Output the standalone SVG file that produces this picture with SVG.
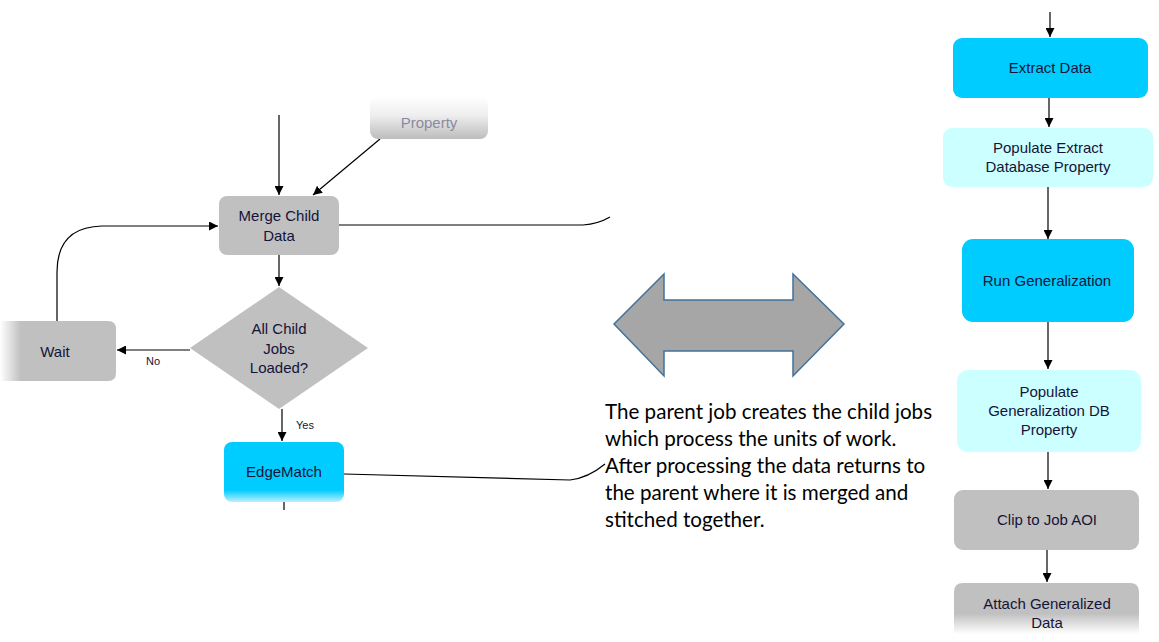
<svg xmlns="http://www.w3.org/2000/svg" width="1159" height="642" viewBox="0 0 1159 642">
<style>
.lbl{font-family:"Liberation Sans",Arial,sans-serif;font-size:15px;fill:#14143a;text-anchor:middle}
.sm{font-family:"Liberation Sans",Arial,sans-serif;font-size:11px;fill:#14143a}
.note{font-family:Lato,"Open Sans",sans-serif;font-size:20.6px;fill:#000}
.gray{fill:#c0c0c0}
.cyan{fill:#00ccff}
.pale{fill:#ccffff}
.c{fill:none;stroke:#000;stroke-width:1.2}
</style>
<defs>
<marker id="ah" viewBox="0 0 10 10" refX="10" refY="5" markerWidth="9" markerHeight="9" markerUnits="userSpaceOnUse" orient="auto">
<path d="M0,0 L10,5 L0,10 z" fill="#000"/>
</marker>
<linearGradient id="fadeTop" x1="0" y1="0" x2="0" y2="1">
<stop offset="0" stop-color="#fff"/>
<stop offset="0.45" stop-color="#eee"/>
<stop offset="1" stop-color="#bdbdbd"/>
</linearGradient>
<linearGradient id="fadeLeft" x1="0" y1="0" x2="1" y2="0">
<stop offset="0" stop-color="#fff"/>
<stop offset="0.18" stop-color="#c0c0c0"/>
<stop offset="1" stop-color="#c0c0c0"/>
</linearGradient>
<linearGradient id="fadeBotGray" x1="0" y1="0" x2="0" y2="1">
<stop offset="0" stop-color="#c0c0c0"/>
<stop offset="0.6" stop-color="#c0c0c0"/>
<stop offset="1" stop-color="#fff"/>
</linearGradient>
<linearGradient id="fadeBotCyan" x1="0" y1="0" x2="0" y2="1">
<stop offset="0" stop-color="#00ccff"/>
<stop offset="0.8" stop-color="#00ccff"/>
<stop offset="1" stop-color="#bff0ff"/>
</linearGradient>
<linearGradient id="lineFade" x1="0" y1="0" x2="1" y2="0">
<stop offset="0" stop-color="#000" stop-opacity="0"/>
<stop offset="0.2" stop-color="#000"/>
<stop offset="1" stop-color="#000"/>
</linearGradient>
</defs>

<g id="connectors">
<path class="c" d="M279,115 V195" marker-end="url(#ah)"/>
<path class="c" d="M380,139 L313,195" marker-end="url(#ah)"/>
<path class="c" d="M279,255 V286" marker-end="url(#ah)"/>
<path class="c" d="M339,225 H583 Q598,224 610,217"/>
<path class="c" d="M190,350 H117" marker-end="url(#ah)"/>
<path class="c" d="M57,321 V272 Q57,227 102,226 H218" marker-end="url(#ah)"/>
<path class="c" d="M282,409 V441" marker-end="url(#ah)"/>
<path class="c" d="M344,474 L570,480 Q588,478 605,464"/>
<path class="c" d="M284,502 V510"/>
<path class="c" d="M1050,12 V37" marker-end="url(#ah)"/>
<path stroke="url(#lineFade)" stroke-width="1.2" fill="none" d="M873,67.5 H953"/>
<path class="c" d="M1049,98 V127" marker-end="url(#ah)"/>
<path class="c" d="M1048,187 V239" marker-end="url(#ah)"/>
<path stroke="url(#lineFade)" stroke-width="1.2" fill="none" d="M870,281.5 H962"/>
<path class="c" d="M1048,322 V369" marker-end="url(#ah)"/>
<path class="c" d="M1048,452 V489" marker-end="url(#ah)"/>
<path stroke="url(#lineFade)" stroke-width="1.2" fill="none" d="M870,520.5 H954"/>
<path class="c" d="M1047,550 V582" marker-end="url(#ah)"/>
<path stroke="url(#lineFade)" stroke-width="1.2" fill="none" d="M873,615.5 H954"/>
<text class="sm" x="146" y="365">No</text>
<text class="sm" x="296" y="429">Yes</text>
</g>

<g id="property">
<rect x="370" y="96" width="118" height="43" rx="8" fill="url(#fadeTop)"/>
<text class="lbl" x="429" y="128" style="fill:#8a8aa0">Property</text>
</g>

<g id="merge">
<rect class="gray" x="219" y="196" width="120" height="59" rx="8"/>
<text class="lbl" x="279" y="221">Merge Child</text>
<text class="lbl" x="279" y="241">Data</text>
</g>

<g id="decision">
<polygon class="gray" points="279,287 368,348 279,409 190,348"/>
<text class="lbl" x="279" y="334">All Child</text>
<text class="lbl" x="279" y="354">Jobs</text>
<text class="lbl" x="279" y="373">Loaded?</text>
</g>

<g id="wait">
<path d="M0,321 H108 Q116,321 116,329 V373 Q116,381 108,381 H0 z" fill="url(#fadeLeft)"/>
<text class="lbl" x="55" y="357">Wait</text>
</g>

<g id="edgematch">
<rect x="224" y="442" width="120" height="60" rx="8" fill="url(#fadeBotCyan)"/>
<text class="lbl" x="284" y="477">EdgeMatch</text>
</g>

<g id="double-arrow">
<polygon points="614,324 664,274 664,300 793,300 793,274 844,324 793,376 793,351 664,351 664,376" fill="#a6a6a6" stroke="#41719c" stroke-width="1.5"/>
</g>

<g id="note">
<text class="note" x="605" y="419">The parent job creates the child jobs</text>
<text class="note" x="605" y="446">which process the units of work.</text>
<text class="note" x="605" y="473">After processing the data returns to</text>
<text class="note" x="605" y="500">the parent where it is merged and</text>
<text class="note" x="605" y="527">stitched together.</text>
</g>

<g id="extract">
<rect class="cyan" x="953" y="38" width="195" height="60" rx="9"/>
<text class="lbl" x="1050" y="73">Extract Data</text>
</g>

<g id="populate-extract">
<rect class="pale" x="943" y="128" width="210" height="59" rx="9"/>
<text class="lbl" x="1048" y="153">Populate Extract</text>
<text class="lbl" x="1048" y="172">Database Property</text>
</g>

<g id="run-generalization">
<rect class="cyan" x="962" y="239" width="172" height="83" rx="11"/>
<text class="lbl" x="1047" y="286">Run Generalization</text>
</g>

<g id="populate-generalization">
<rect class="pale" x="957" y="370" width="184" height="82" rx="11"/>
<text class="lbl" x="1049" y="397">Populate</text>
<text class="lbl" x="1049" y="416">Generalization DB</text>
<text class="lbl" x="1049" y="435">Property</text>
</g>

<g id="clip">
<rect class="gray" x="954" y="490" width="185" height="60" rx="9"/>
<text class="lbl" x="1047" y="525">Clip to Job AOI</text>
</g>

<g id="attach">
<path d="M963,583 H1130 Q1139,583 1139,592 V634 H954 V592 Q954,583 963,583 z" fill="url(#fadeBotGray)"/>
<text class="lbl" x="1047" y="609">Attach Generalized</text>
<text class="lbl" x="1047" y="628">Data</text>
</g>
</svg>
